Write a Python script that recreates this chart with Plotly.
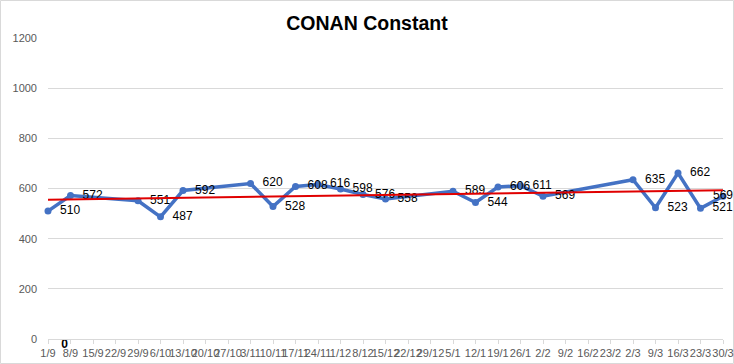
import numpy as np
import plotly.graph_objects as go

categories = ["1/9", "8/9", "15/9", "22/9", "29/9", "6/10", "13/10", "20/10", "27/10",
              "3/11", "10/11", "17/11", "24/11", "1/12", "8/12", "15/12", "22/12", "29/12",
              "5/1", "12/1", "19/1", "26/1", "2/2", "9/2", "16/2", "23/2", "2/3", "9/3",
              "16/3", "23/3", "30/3"]
values = [510, 572, None, None, 551, 487, 592, None, None, 620, 528, 608, 616, 598, 576,
          558, None, None, 589, 544, 606, 611, 569, None, None, None, 635, 523, 662, 521, 569]
hidden_categories = ["1/9"]
hidden_values = [0]
y_ticks = [0, 200, 400, 600, 800, 1000, 1200]

# linear trendline over category index (as Excel does)
idx = [i for i, v in enumerate(values) if v is not None]
vals = [values[i] for i in idx]
slope, intercept = np.polyfit(idx, vals, 1)
trend_x = [categories[0], categories[-1]]
trend_y = [intercept, intercept + slope * (len(categories) - 1)]

positions = ["middle right"] * len(values)
positions[-1] = "middle center"
templates = ["\u00a0\u00a0%{y}"] * len(values)
templates[-1] = "%{y}"

fig = go.Figure()
fig.add_trace(go.Scatter(
    x=categories, y=values, mode="lines+markers+text", connectgaps=True,
    line=dict(color="#4472C4", width=3.5),
    marker=dict(color="#4472C4", size=7),
    texttemplate=templates, textposition=positions,
    textfont=dict(family="Liberation Sans", size=12, color="#000000"),
    cliponaxis=False, showlegend=False, hoverinfo="skip"))
fig.add_trace(go.Scatter(
    x=trend_x, y=trend_y, mode="lines",
    line=dict(color="#E00000", width=2), showlegend=False, hoverinfo="skip"))
fig.add_trace(go.Scatter(
    x=hidden_categories, y=hidden_values, mode="text",
    texttemplate="\u00a0\u00a0\u00a0\u00a0<b>%{y}</b>", textposition="bottom right",
    textfont=dict(family="Liberation Sans", size=12, color="#000000"),
    cliponaxis=False, showlegend=False, hoverinfo="skip"))

L, R, T, B = 48, 11, 38, 25
W, H = 734, 364
pw, ph = W - L - R, H - T - B
fig.update_layout(
    template="none",
    width=W, height=H,
    margin=dict(l=L, r=R, t=T, b=B, autoexpand=False),
    paper_bgcolor="white", plot_bgcolor="white",
    font=dict(family="Liberation Sans", color="#595959"),
    title=dict(text="<b>CONAN Constant</b>", x=0.5, xanchor="center", y=1 - 23 / H,
               yanchor="middle", font=dict(family="Liberation Sans", size=19.5, color="#000000")),
    xaxis=dict(type="category", categoryorder="array", categoryarray=categories,
               range=[0, len(categories) - 1], tickmode="array", tickvals=categories,
               ticktext=categories, tickangle=0, showgrid=False, zeroline=False,
               showline=True, linecolor="#D9D9D9", linewidth=1, automargin=False,
               ticks="outside", ticklen=4, tickcolor="#D9D9D9", tickwidth=1,
               tickfont=dict(family="Liberation Sans", size=11, color="#595959")),
    yaxis=dict(range=[0, 1200], tickvals=y_ticks, showgrid=True, gridcolor="#D9D9D9",
               gridwidth=1, zeroline=False, showline=False, ticks="", automargin=False,
               ticklabelstandoff=10,
               tickfont=dict(family="Liberation Sans", size=11, color="#595959")),
    shapes=[dict(type="rect", xref="paper", yref="paper",
                 x0=(0.5 - L) / pw, x1=(W - 0.5 - L) / pw,
                 y0=(H - B - (H - 0.5)) / ph, y1=(H - B - 0.5) / ph,
                 line=dict(color="#D9D9D9", width=1), fillcolor="rgba(0,0,0,0)", layer="below")],
)
fig.write_html("out.html", config={"displayModeBar": False},
               post_script="document.body.style.margin='0';document.body.style.overflow='hidden';")
